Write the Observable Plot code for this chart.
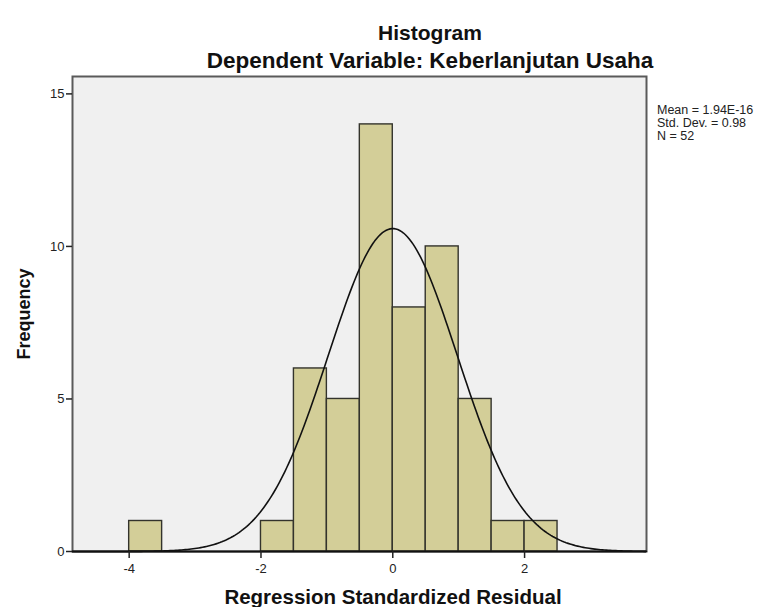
<!DOCTYPE html>
<html>
<head>
<meta charset="utf-8">
<script src="https://cdn.jsdelivr.net/npm/d3@7"></script>
<script src="https://cdn.jsdelivr.net/npm/@observablehq/plot@0.6"></script>
<style>
  html, body { margin: 0; padding: 0; background: #fff; }
  #chart { width: 771px; height: 607px; }
  svg { font-family: "Liberation Sans", Arial, sans-serif; }
</style>
</head>
<body>
<div id="chart"></div>
<script>
// Histogram bins (lower edge, upper edge) and frequencies
const binStart = [-4.0, -2.0, -1.5, -1.0, -0.5, 0.0, 0.5, 1.0, 1.5, 2.0];
const binEnd   = [-3.5, -1.5, -1.0, -0.5, 0.0, 0.5, 1.0, 1.5, 2.0, 2.5];
const counts   = [1, 1, 6, 5, 14, 8, 10, 5, 1, 1];
const xTicks = [-4, -2, 0, 2];
const yTicks = [0, 5, 10, 15];
const statsLines = ["Mean = 1.94E-16", "Std. Dev. = 0.98", "N = 52"];
const meanVal = 1.94e-16, sdVal = 0.98, nVal = 52, binWidth = 0.5;
const xDomain = [-4.86, 3.85];
const yDomain = [0, 15.57];

const bars = binStart.map((s, i) => ({x1: s, x2: binEnd[i], y: counts[i]}));

// Normal curve implied by the stated mean, SD and N (scaled to bin width)
const curve = d3.range(0, 301).map(i => {
  const x = xDomain[0] + (xDomain[1] - xDomain[0]) * i / 300;
  const z = (x - meanVal) / sdVal;
  return {x, y: nVal * binWidth * Math.exp(-0.5 * z * z) / (sdVal * Math.sqrt(2 * Math.PI))};
});

const W = 771, H = 607;
const mL = 72, mR = 125, mT = 76, mB = 56;

const plot = Plot.plot({
  width: W, height: H,
  marginLeft: mL, marginRight: mR, marginTop: mT, marginBottom: mB,
  style: {fontFamily: "Liberation Sans, Arial, sans-serif", fontSize: "13px", color: "#222", background: "#fff"},
  x: {domain: xDomain, ticks: xTicks, tickFormat: d => d, label: null},
  y: {domain: yDomain, ticks: yTicks, tickFormat: d => d, label: null},
  marks: [
    Plot.frame({fill: "#f0f0f0", stroke: "#5a5a5a", strokeWidth: 2}),
    Plot.rectY(bars, {x1: "x1", x2: "x2", y: "y", fill: "#d3ce98", stroke: "#33332c", strokeWidth: 1.4}),
    Plot.line(curve, {x: "x", y: "y", stroke: "#111", strokeWidth: 1.6}),
    Plot.ruleY([0], {stroke: "#111", strokeWidth: 2}),
    Plot.axisX({ticks: xTicks, tickSize: 7, tickPadding: 5, tickFormat: d => d, fontSize: 13, stroke: "#222", strokeWidth: 1.5, label: null}),
    Plot.axisY({ticks: yTicks, tickSize: 6, tickPadding: 2, tickFormat: d => d, fontSize: 13, stroke: "#222", strokeWidth: 1.5, label: null})
  ]
});

document.getElementById("chart").appendChild(plot);
const svg = d3.select(plot);
const ff = "Liberation Sans, Arial, sans-serif";

svg.append("text").attr("x", 430).attr("y", 40).attr("text-anchor", "middle")
  .attr("font-family", ff).attr("font-weight", "bold").attr("font-size", 21).attr("fill", "#111")
  .text("Histogram");
svg.append("text").attr("x", 430).attr("y", 68).attr("text-anchor", "middle")
  .attr("font-family", ff).attr("font-weight", "bold").attr("font-size", 22.5).attr("fill", "#111")
  .text("Dependent Variable: Keberlanjutan Usaha");
svg.append("text").attr("x", 393).attr("y", 604).attr("text-anchor", "middle")
  .attr("font-family", ff).attr("font-weight", "bold").attr("font-size", 20.5).attr("fill", "#111")
  .text("Regression Standardized Residual");
svg.append("text").attr("transform", "translate(30,314) rotate(-90)").attr("text-anchor", "middle")
  .attr("font-family", ff).attr("font-weight", "bold").attr("font-size", 18).attr("fill", "#111")
  .text("Frequency");
statsLines.forEach((t, i) => {
  svg.append("text").attr("x", 657).attr("y", 114 + i * 13).attr("text-anchor", "start")
    .attr("font-family", ff).attr("font-size", 12.5).attr("fill", "#222")
    .text(t);
});
</script>
</body>
</html>
